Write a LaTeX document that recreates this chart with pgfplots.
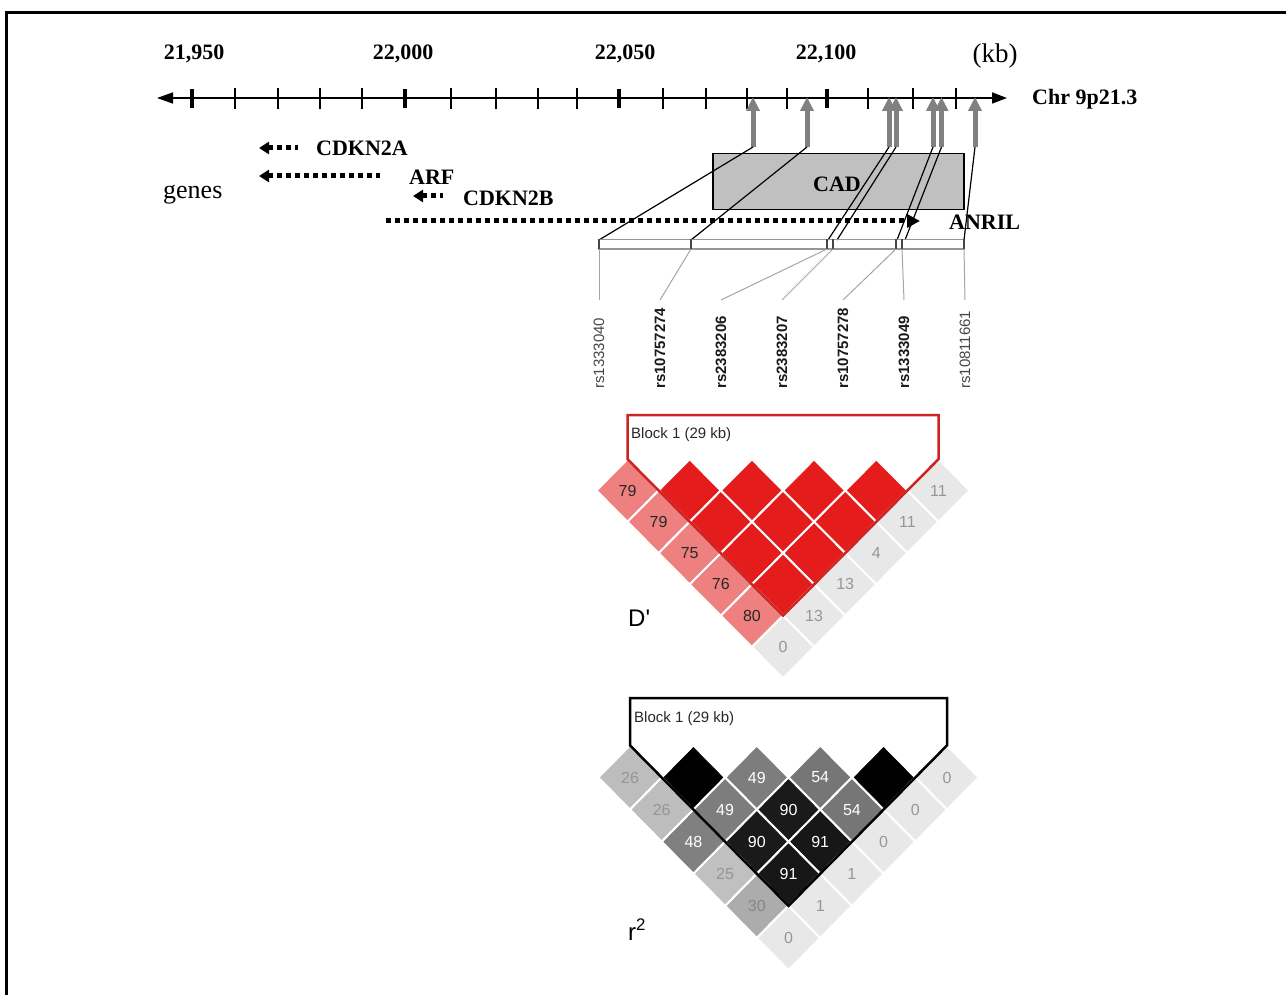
\documentclass[border=0pt]{standalone}
\usepackage{pgfplots}
\pgfplotsset{compat=1.18}
\usetikzlibrary{arrows.meta}
\usepackage{fontspec}
\setmainfont{Liberation Serif}
\newfontfamily\ldsans{Liberation Sans}
\definecolor{dred}{RGB}{228,28,28}
\definecolor{dpink}{RGB}{238,128,128}
\definecolor{dgray}{RGB}{232,232,232}
\definecolor{outred}{RGB}{205,35,35}
\definecolor{numgray}{RGB}{150,150,150}
\definecolor{numdark}{RGB}{40,40,40}
\definecolor{snpgray}{RGB}{128,128,128}
\definecolor{cadgray}{RGB}{192,192,192}
\definecolor{bargray}{RGB}{150,150,150}
\definecolor{linegray}{RGB}{165,165,165}
\definecolor{r26}{RGB}{189,189,189}
\definecolor{r49}{RGB}{125,125,125}
\definecolor{r54}{RGB}{118,118,118}
\definecolor{r48}{RGB}{128,128,128}
\definecolor{r90}{RGB}{26,26,26}
\definecolor{r91}{RGB}{23,23,23}
\definecolor{r25}{RGB}{192,192,192}
\definecolor{r30}{RGB}{172,172,172}
\definecolor{r30txt}{RGB}{135,135,135}
\definecolor{snpreg}{RGB}{70,70,70}
\definecolor{snpbold}{RGB}{25,25,25}
\newcommand\bigbf{\fontsize{22}{26}\selectfont\bfseries}
\newcommand\ldnum{\ldsans\fontsize{16}{19}\selectfont}
\newcommand\snpfont{\ldsans\fontsize{15}{18}\selectfont}
\newcommand{\ldcell}[5]{%
  \pgfmathsetmacro\cx{\LDx+(#1+#2-3)*\LDh}%
  \pgfmathsetmacro\cy{\LDy+(#2-#1-1)*\LDv}%
  \pgfmathsetmacro\xl{\cx-\LDh}%
  \pgfmathsetmacro\xr{\cx+\LDh}%
  \pgfmathsetmacro\yt{\cy-\LDv}%
  \pgfmathsetmacro\yb{\cy+\LDv}%
  \edef\tmp{\noexpand\addplot[fill=#3, draw=white, line width=2pt] coordinates {(\xl,\cy) (\cx,\yt) (\xr,\cy) (\cx,\yb)} -- cycle;
  \noexpand\node[text=#5, font=\noexpand\ldnum, inner sep=0pt] at (axis cs:\cx,\cy) {#4};}%
  \tmp}
\begin{document}
\begin{tikzpicture}
\begin{axis}[width=1286pt,height=995pt,scale only axis,
  xmin=0,xmax=1286,ymin=0,ymax=995,y dir=reverse,hide axis,clip=false]
% frame
\addplot[black,line width=3pt] coordinates {(6.5,995) (6.5,12.5) (1286,12.5)};
% chromosome axis
\addplot[black,line width=1.6pt,{Triangle[length=16pt,width=11pt]}-{Triangle[length=15pt,width=11pt]}] coordinates {(157,98) (1007,98)};
\pgfplotsinvokeforeach{192,405,619,827}{\addplot[black,line width=3.5pt] coordinates {(#1,89) (#1,108)};}
\pgfplotsinvokeforeach{235,278,320,362,451,496,538,577,663,706,747,787,868,913,956}{\addplot[black,line width=1.3pt] coordinates {(#1,88) (#1,109)};}
\node[font=\bigbf,anchor=base] at (axis cs:194,60) {21,950};
\node[font=\bigbf,anchor=base] at (axis cs:403,60) {22,000};
\node[font=\bigbf,anchor=base] at (axis cs:625,60) {22,050};
\node[font=\bigbf,anchor=base] at (axis cs:826,60) {22,100};
\node[font=\fontsize{27}{30}\selectfont,anchor=base] at (axis cs:995,63) {(kb)};
\node[font=\bigbf,anchor=base west,inner sep=0pt] at (axis cs:1032,105) {Chr 9p21.3};
% genes
\node[font=\fontsize{26}{30}\selectfont,anchor=base west,inner sep=0pt] at (axis cs:163,199) {genes};
\addplot[black,line width=5pt,dash pattern=on 5pt off 4pt,{Triangle[length=10pt,width=12pt]}-] coordinates {(259,148) (298,148)};
\addplot[black,line width=5pt,dash pattern=on 5pt off 4pt,{Triangle[length=10pt,width=12pt]}-] coordinates {(259,176) (380,176)};
\addplot[black,line width=5pt,dash pattern=on 5pt off 4pt,{Triangle[length=10pt,width=12pt]}-] coordinates {(413,196) (443,196)};
\addplot[black,line width=5pt,dash pattern=on 5pt off 4pt,-{Triangle[length=13pt,width=13pt]}] coordinates {(386,221) (920,221)};
\node[font=\bigbf,anchor=base west,inner sep=0pt] at (axis cs:316,156) {CDKN2A};
\node[font=\bigbf,anchor=base west,inner sep=0pt] at (axis cs:409,185) {ARF};
\node[font=\bigbf,anchor=base west,inner sep=0pt] at (axis cs:463,206) {CDKN2B};
% CAD box
\addplot[draw=black,fill=cadgray,line width=1.2pt] coordinates {(713,153.5) (964,153.5) (964,209.5) (713,209.5)} -- cycle;
\node[font=\bigbf,anchor=base,inner sep=0pt] at (axis cs:837,191.5) {CAD};
\node[font=\bigbf,anchor=base west,inner sep=0pt] at (axis cs:949,230) {ANRIL};
% SNP arrows
\pgfplotsinvokeforeach{753,807,889,896,933,941.5,975}{\addplot[snpgray,line width=5pt,-{Triangle[length=14pt,width=13pt]}] coordinates {(#1,147) (#1,97)};}
% connecting lines
\addplot[black,line width=1.2pt] coordinates {(753,147) (599,240)};
\addplot[black,line width=1.2pt] coordinates {(807,147) (691,240)};
\addplot[black,line width=1.2pt] coordinates {(889,147) (828,240)};
\addplot[black,line width=1.2pt] coordinates {(896,147) (837,240)};
\addplot[black,line width=1.2pt] coordinates {(933,147) (897,240)};
\addplot[black,line width=1.2pt] coordinates {(941.5,147) (905,240)};
\addplot[black,line width=1.2pt] coordinates {(975,147) (964,240)};
% SNP bar
\addplot[draw=bargray,line width=1.2pt] coordinates {(599,239.5) (964,239.5) (964,249) (599,249)} -- cycle;
\pgfplotsinvokeforeach{599,691,827,833,896,902,964}{\addplot[draw=snpreg,line width=1.3pt] coordinates {(#1,239) (#1,249.5)};}
\addplot[linegray,line width=1pt] coordinates {(599,249) (599,300)};
\addplot[linegray,line width=1pt] coordinates {(691,249) (660,300)};
\addplot[linegray,line width=1pt] coordinates {(827,249) (721,300)};
\addplot[linegray,line width=1pt] coordinates {(833,249) (782,300)};
\addplot[linegray,line width=1pt] coordinates {(896,249) (843,300)};
\addplot[linegray,line width=1pt] coordinates {(902,249) (904,300)};
\addplot[linegray,line width=1pt] coordinates {(964,249) (965,300)};
\node[font=\snpfont,text=snpreg,rotate=90,anchor=west,inner sep=0pt] at (axis cs:599,389) {rs1333040};
\node[font=\snpfont\bfseries,text=snpbold,rotate=90,anchor=west,inner sep=0pt] at (axis cs:660,389) {rs10757274};
\node[font=\snpfont\bfseries,text=snpbold,rotate=90,anchor=west,inner sep=0pt] at (axis cs:721,389) {rs2383206};
\node[font=\snpfont\bfseries,text=snpbold,rotate=90,anchor=west,inner sep=0pt] at (axis cs:782,389) {rs2383207};
\node[font=\snpfont\bfseries,text=snpbold,rotate=90,anchor=west,inner sep=0pt] at (axis cs:843,389) {rs10757278};
\node[font=\snpfont\bfseries,text=snpbold,rotate=90,anchor=west,inner sep=0pt] at (axis cs:904,389) {rs1333049};
\node[font=\snpfont,text=snpreg,rotate=90,anchor=west,inner sep=0pt] at (axis cs:965,389) {rs10811661};
% D' plot
\def\LDx{627.5}\def\LDy{490.5}\def\LDh{31.1}\def\LDv{31.3}
\ldcell{1}{2}{dpink}{79}{numdark}
\ldcell{2}{3}{dred}{}{white}
\ldcell{3}{4}{dred}{}{white}
\ldcell{4}{5}{dred}{}{white}
\ldcell{5}{6}{dred}{}{white}
\ldcell{6}{7}{dgray}{11}{numgray}
\ldcell{1}{3}{dpink}{79}{numdark}
\ldcell{2}{4}{dred}{}{white}
\ldcell{3}{5}{dred}{}{white}
\ldcell{4}{6}{dred}{}{white}
\ldcell{5}{7}{dgray}{11}{numgray}
\ldcell{1}{4}{dpink}{75}{numdark}
\ldcell{2}{5}{dred}{}{white}
\ldcell{3}{6}{dred}{}{white}
\ldcell{4}{7}{dgray}{4}{numgray}
\ldcell{1}{5}{dpink}{76}{numdark}
\ldcell{2}{6}{dred}{}{white}
\ldcell{3}{7}{dgray}{13}{numgray}
\ldcell{1}{6}{dpink}{80}{numdark}
\ldcell{2}{7}{dgray}{13}{numgray}
\ldcell{1}{7}{dgray}{0}{numgray}
\addplot[draw=outred,line width=2.5pt,line join=miter] coordinates {(627.5,415) (627.5,459.2) (783,615.7) (938.5,459.2) (938.5,415)} -- cycle;
\node[font=\ldsans\fontsize{15}{18}\selectfont,anchor=base west,inner sep=0pt,text=numdark] at (axis cs:631,438) {Block 1 (29 kb)};
\node[font=\ldsans\fontsize{24}{28}\selectfont,anchor=base west,inner sep=0pt] at (axis cs:628,626) {D'};
% r2 plot
\def\LDx{630}\def\LDy{777.5}\def\LDh{31.7}\def\LDv{32.1}
\ldcell{1}{2}{r26}{26}{numgray}
\ldcell{2}{3}{black}{}{white}
\ldcell{3}{4}{r49}{49}{white}
\ldcell{4}{5}{r54}{54}{white}
\ldcell{5}{6}{black}{}{white}
\ldcell{6}{7}{dgray}{0}{numgray}
\ldcell{1}{3}{r26}{26}{numgray}
\ldcell{2}{4}{r49}{49}{white}
\ldcell{3}{5}{r90}{90}{white}
\ldcell{4}{6}{r54}{54}{white}
\ldcell{5}{7}{dgray}{0}{numgray}
\ldcell{1}{4}{r48}{48}{white}
\ldcell{2}{5}{r90}{90}{white}
\ldcell{3}{6}{r91}{91}{white}
\ldcell{4}{7}{dgray}{0}{numgray}
\ldcell{1}{5}{r25}{25}{numgray}
\ldcell{2}{6}{r91}{91}{white}
\ldcell{3}{7}{dgray}{1}{numgray}
\ldcell{1}{6}{r30}{30}{r30txt}
\ldcell{2}{7}{dgray}{1}{numgray}
\ldcell{1}{7}{dgray}{0}{numgray}
\addplot[draw=black,line width=2.5pt,line join=miter] coordinates {(630,698) (630,745.4) (788.5,905.9) (947,745.4) (947,698)} -- cycle;
\node[font=\ldsans\fontsize{15}{18}\selectfont,anchor=base west,inner sep=0pt,text=numdark] at (axis cs:634,722) {Block 1 (29 kb)};
\node[font=\ldsans\fontsize{24}{28}\selectfont,anchor=base west,inner sep=0pt] at (axis cs:628,940) {r\textsuperscript{2}};
\end{axis}
\pgfresetboundingbox
\path (current axis.south west) rectangle (current axis.north east);
\end{tikzpicture}
\end{document}
